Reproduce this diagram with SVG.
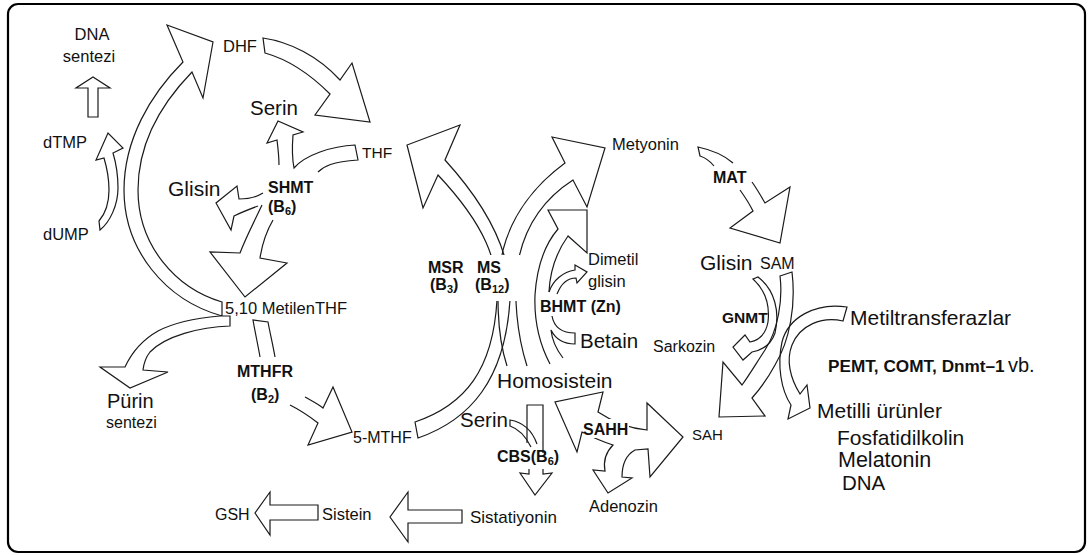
<svg xmlns="http://www.w3.org/2000/svg" width="1090" height="555" viewBox="0 0 1090 555">
<style>
.f{fill:#fff;stroke:#1a1a1a;stroke-width:1.2;stroke-linejoin:miter}
.n{fill:none;stroke:#1a1a1a;stroke-width:1.2;stroke-linejoin:miter}
.m{fill:#fff;stroke:none}
text{font-family:"Liberation Sans",Arial,Helvetica,sans-serif;fill:#111}
.s{font-size:16.5px}
.l{font-size:21px}
.b{font-size:16px;font-weight:bold}
</style>
<rect width="1090" height="555" fill="#fff"/>
<rect x="8" y="4" width="1077" height="548" rx="10" fill="none" stroke="#000" stroke-width="2.2"/>
<g id="connectors">
<path class="f" d="M167,25 L213,42 L203,98 L192,72 C160,105 138,145 138,190 C138,245 175,288 222,302 L222,316 C165,300 124,250 124,190 C124,140 150,95 183,62 Z"/>
<path class="f" d="M263,38 C290,42 318,56 340,80 L352,63 L370,122 L315,115 L330,94 C312,76 290,60 265,53 Z"/>
<path class="n" d="M318,172 C324,166 332,162 358,160 L355,145 C332,146 305,155 294,168 C292,158 292,148 293,135 L303,132 L278,121 L267,143 L277,140 C278,148 279,156 279,165"/>
<path class="n" d="M263,193 C255,198 247,199 239,199 L237,186 L216,203 L231,230 L234,216 C242,212 250,209 258,206"/>
<path class="n" d="M262,205 C255,220 246,237 240,253 L210,252 L245,297 L287,263 L260,258 C262,245 266,232 273,220"/>
<path class="f" d="M220,316 L230,316 L230,326 C200,327 165,336 150,352 C146,357 144,362 143,370 L168,372 L130,388 L100,367 L125,367 C132,352 142,340 158,331 C175,322 198,318 220,316 Z"/>
<path class="n" d="M260,357 C258,345 255,332 253,320 L268,322 C270,333 273,345 275,357"/>
<path class="n" d="M290,405 C300,410 309,416 318,423 L308,445 L352,432 L333,387 L323,408 C318,404 312,401 305,397"/>
<path class="f" d="M100,230 C110,222 118,205 118,188 C118,175 116,163 113,153 L123,148 L108,133 L96,160 L104,158 C107,168 109,178 109,190 C109,205 105,214 99,221 Z"/>
<path class="f" d="M88,117 L88,88 L76,88 L93,77 L110,88 L98,88 L98,117 Z"/>
<path class="n" d="M418,438 C470,420 505,380 510,300 C512,260 495,215 445,160 L460,125 L407,145 L423,208 L438,175 C485,225 499,262 497,300 C493,370 465,405 415,422 Z"/>
<path class="n" d="M507,366 C497,335 495,290 503,250 C512,215 535,185 565,163 L552,137 L605,148 L587,207 L573,180 C545,198 525,225 518,262 C513,295 517,335 527,366"/>
<path class="n" d="M550,364 C540,345 534,320 535,295 C537,265 546,243 558,229 L548,210 L587,210 L587,253 L568,236 C558,250 550,270 549,292"/>
<path class="n" d="M549,292 C553,280 563,272 575,270 L575,265 L587,272 L577,283 L576,278 C567,278 561,284 557,294"/>
<path class="n" d="M552,316 C554,327 561,333 575,333 L575,344 C565,344 556,340 551,330 C552,340 556,349 563,358"/>
<path class="n" d="M527,443 L527,405 L543,405 L543,453"/>
<path class="n" d="M529,469 L529,474 L520,473 L535,495 L552,473 L543,474 L543,469"/>
<path class="n" d="M537,444 C532,430 522,422 510,420 L510,426 C519,429 526,437 531,447"/>
<path class="f" d="M598,412 L603,392 L555,402 L577,452 L582,432 C592,437 600,441 613,445 C606,452 603,460 605,471 L593,470 L608,493 L632,478 L622,477 C622,465 626,455 635,450 L648,449 L650,477 L683,437 L647,403 L647,430 C625,428 610,420 598,412 Z"/>
<path class="f" d="M462,510 L408,510 L408,492 L390,517 L408,542 L408,523 L462,523 Z"/>
<path class="f" d="M318,505 L270,505 L270,492 L255,513 L270,535 L270,520 L318,520 Z"/>
<path class="n" d="M733,163 C724,155 712,150 698,147 L700,156 C706,158 710,161 714,166"/>
<path class="n" d="M752,182 C757,189 761,196 765,203 L790,187 L780,243 L730,228 L753,211 C749,203 745,197 740,190"/>
<path class="n" d="M780,276 L792,272 C796,305 790,340 775,365 C768,378 760,389 752,398 L765,416 L719,417 L723,362 L742,385 C750,374 757,362 765,350 C778,330 783,300 780,276 Z"/>
<path class="n" d="M753,279 L758,277 C775,290 780,312 775,333 C771,345 763,350 752,352 L743,360 L733,347 L745,335 L750,342 C760,340 766,333 768,322 C770,305 765,290 753,279 Z"/>
<path class="n" d="M847,307 L843,321 C822,316 800,325 792,345 C786,360 790,378 800,394 L807,385 L810,408 L788,419 L791,405 C781,390 777,365 782,342 C788,318 815,302 847,307 Z"/>
</g>
<rect class="m" x="472" y="255" width="48" height="46"/>
<rect class="m" x="538" y="298" width="89" height="18"/>
<rect class="m" x="584" y="419" width="45" height="19"/>
<g id="n-dna-sentezi"><text class="s" x="92" y="40" text-anchor="middle">DNA</text><text class="s" x="89" y="62" text-anchor="middle">sentezi</text></g>
<g id="n-dhf"><text class="s" x="223" y="52">DHF</text></g>
<g id="n-serin1"><text style="font-size:20.5px" x="250" y="115">Serin</text></g>
<g id="n-thf"><text style="font-size:15.5px" x="362" y="158">THF</text></g>
<g id="n-glisin1"><text class="l" x="168" y="196">Glisin</text></g>
<g id="e-shmt"><text class="b" x="268" y="193">SHMT</text><text class="b" x="268" y="212">(B<tspan font-size="11" dy="3">6</tspan><tspan dy="-3">)</tspan></text></g>
<g id="n-dtmp"><text class="s" x="43" y="148">dTMP</text></g>
<g id="n-dump"><text class="s" x="43" y="240">dUMP</text></g>
<g id="n-metilenthf"><text class="s" x="225" y="314">5,10 MetilenTHF</text></g>
<g id="e-mthfr"><text class="b" x="237" y="377">MTHFR</text><text class="b" x="251" y="400">(B<tspan font-size="11" dy="3">2</tspan><tspan dy="-3">)</tspan></text></g>
<g id="n-purin"><text style="font-size:20px" x="107" y="408">Pürin</text><text style="font-size:16px" x="106" y="428">sentezi</text></g>
<g id="n-5mthf"><text style="font-size:16px" x="353" y="443">5-MTHF</text></g>
<g id="n-gsh"><text style="font-size:16px" x="215" y="520">GSH</text></g>
<g id="n-sistein"><text class="s" x="322" y="520">Sistein</text></g>
<g id="n-sistatiyonin"><text style="font-size:17px" x="470" y="523">Sistatiyonin</text></g>
<g id="e-msr"><text class="b" x="428" y="273">MSR</text><text class="b" x="430" y="290">(B<tspan font-size="11" dy="3">3</tspan><tspan dy="-3">)</tspan></text></g>
<g id="e-ms"><text class="b" x="477" y="273">MS</text><text class="b" x="475" y="290">(B<tspan font-size="11" dy="3">12</tspan><tspan dy="-3">)</tspan></text></g>
<g id="n-metyonin"><text class="s" x="612" y="150">Metyonin</text></g>
<g id="n-dimetilglisin"><text class="s" x="588" y="265">Dimetil</text><text class="s" x="588" y="287">glisin</text></g>
<g id="e-bhmt"><text class="b" x="540" y="312">BHMT (Zn)</text></g>
<g id="n-betain"><text style="font-size:20.5px" x="580" y="348">Betain</text></g>
<g id="n-sarkozin"><text style="font-size:16px" x="653" y="352">Sarkozin</text></g>
<g id="n-homosistein"><text class="l" x="497" y="388">Homosistein</text></g>
<g id="n-serin2"><text style="font-size:20.5px" x="460" y="427">Serin</text></g>
<g id="e-cbs"><text class="b" x="497" y="462">CBS(B<tspan font-size="11" dy="3">6</tspan><tspan dy="-3">)</tspan></text></g>
<g id="e-sahh"><text class="b" x="583" y="435">SAHH</text></g>
<g id="n-sah"><text style="font-size:15px" x="692" y="440">SAH</text></g>
<g id="n-adenozin"><text class="s" x="589" y="512">Adenozin</text></g>
<g id="e-mat"><text class="b" x="713" y="183">MAT</text></g>
<g id="n-glisin2"><text class="l" x="700" y="270">Glisin</text></g>
<g id="n-sam"><text style="font-size:16px" x="760" y="269">SAM</text></g>
<g id="e-gnmt"><text style="font-size:15.5px;font-weight:bold" x="722" y="323">GNMT</text></g>
<g id="n-metiltransferazlar"><text class="l" x="850" y="325">Metiltransferazlar</text></g>
<g id="e-pemt"><text x="828" y="372"><tspan style="font-size:17.2px;font-weight:bold">PEMT, COMT, Dnmt–1</tspan><tspan style="font-size:20px" x="1008">vb.</tspan></text></g>
<g id="n-metilli"><text class="l" x="817" y="418">Metilli ürünler</text><text class="l" x="837" y="445">Fosfatidilkolin</text><text style="font-size:21.5px" x="838" y="467">Melatonin</text><text style="font-size:20.5px" x="842" y="490">DNA</text></g>
</svg>
